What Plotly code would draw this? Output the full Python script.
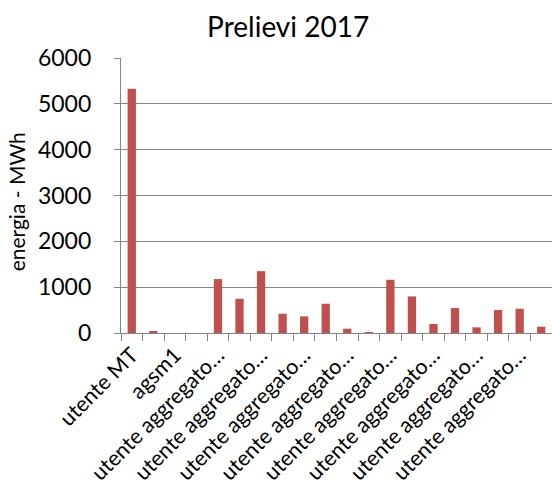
import plotly.graph_objects as go

# Withdrawals per user in 2017 (MWh), one value per user slot
values = [5330, 40, 0, 0, 1176, 747, 1350, 421, 363, 639,
          94, 20, 1161, 798, 196, 544, 123, 501, 530, 138]

# Labels shown under every other bar
tick_labels = ["utente MT", "agsm1", "utente aggregato…", "utente aggregato…",
               "utente aggregato…", "utente aggregato…", "utente aggregato…",
               "utente aggregato…", "utente aggregato…", "utente aggregato…"]

y_ticks = [0, 1000, 2000, 3000, 4000, 5000, 6000]

positions = list(range(len(values)))
label_positions = positions[::2]
boundaries = [p - 0.5 for p in positions] + [positions[-1] + 0.5]

GREY = "#868686"
FONT = "Lato"

fig = go.Figure(
    go.Bar(
        x=positions,
        y=values,
        marker=dict(color="#C0504D", line=dict(width=0)),
        width=0.385,
    )
)

fig.update_layout(
    width=552,
    height=491,
    margin=dict(l=121, r=0, t=58, b=158),
    paper_bgcolor="white",
    plot_bgcolor="white",
    showlegend=False,
    font=dict(family=FONT, size=22, color="black"),
    title=dict(
        text="Prelievi 2017",
        font=dict(family=FONT, size=28, color="black"),
        x=0.522,
        xref="container",
        xanchor="center",
        y=0.945,
        yref="container",
        yanchor="middle",
    ),
)

fig.update_xaxes(
    range=[-0.5, len(values) - 0.5],
    tickmode="array",
    tickvals=label_positions,
    ticktext=tick_labels,
    tickangle=-45,
    ticks="",
    showgrid=False,
    showline=True,
    linecolor=GREY,
    linewidth=1.3,
    automargin=False,
    tickfont=dict(family=FONT, size=21.5, color="black"),
    minor=dict(
        tickmode="array",
        tickvals=boundaries,
        ticks="outside",
        ticklen=7,
        tickwidth=1.3,
        tickcolor=GREY,
        showgrid=False,
    ),
    zeroline=False,
)

fig.update_yaxes(
    range=[0, 6000],
    tickmode="array",
    tickvals=y_ticks,
    ticks="outside",
    ticklen=6,
    tickwidth=1.3,
    tickcolor=GREY,
    showgrid=True,
    gridcolor=GREY,
    gridwidth=1.3,
    showline=True,
    linecolor=GREY,
    linewidth=1.3,
    zeroline=False,
    automargin=False,
    ticklabelstandoff=18,
    tickfont=dict(family=FONT, size=23, color="black"),
)

fig.add_annotation(
    text="energia - MWh",
    xref="paper",
    yref="paper",
    x=-0.243,
    y=0.476,
    xanchor="center",
    yanchor="middle",
    textangle=-90,
    showarrow=False,
    font=dict(family=FONT, size=21, color="black"),
)

fig.write_html("out.html")
